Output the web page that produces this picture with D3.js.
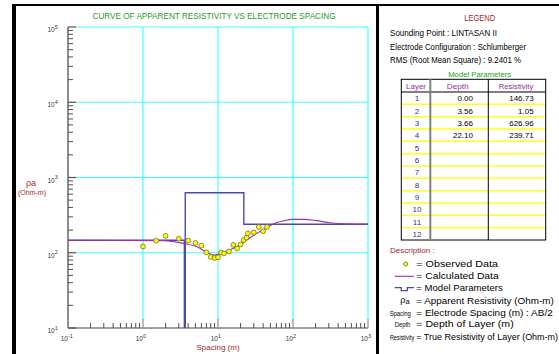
<!DOCTYPE html>
<html><head><meta charset="utf-8">
<script src="https://cdn.jsdelivr.net/npm/d3@7"></script>
<style>body{margin:0;background:#fff}svg{display:block}text{font-family:"Liberation Sans",Arial,sans-serif}</style>
</head><body><svg id="c" width="559" height="354"></svg>
<script>
// ---- data ----
const obsSpacing = [1,1.5,2,3,4,5,6,7,8,9,10,11,12,14,16,18,20,22,24,25,30,35,40,45];
const obsRho = [121,145,168,154,145,135,124,101,88,85,87,101,98,104,127,114,129,147,159,181,186,220,193,220];
const calcSpacing = [0.1,1.88,2.69,3.47,5.22,7.1,8.69,10.1,13.1,17.8,24.1,32.8,44.6,60.5,67,100,144,206,310,466,1000];
const calcRho = [146.4,145,139.6,133.3,120.2,101.2,93.2,95.2,105.3,120.2,147.4,181,215,253,258,278,278,267,251,243,241];
const layerNo = [1,2,3,4,5,6,7,8,9,10,11,12];
const layerDepth = ["0.00","3.56","3.66","22.10"];
const layerRes = ["146.73","1.05","626.96","239.71"];
const xTickExp = [-1,0,1,2,3];
const yTickExp = [1,2,3,4,5];
const title = "CURVE OF APPARENT RESISTIVITY VS ELECTRODE SPACING";

const svg = d3.select("#c");
const L=68,R=368,T=27,B=328;
const x = d3.scaleLog().domain([0.1,1000]).range([L,R]);
const y = d3.scaleLog().domain([10,1e5]).range([B,T]);

// frame
svg.append("rect").attr("x",12).attr("y",4).attr("width",4).attr("height",350).attr("fill","#000");
svg.append("rect").attr("x",12).attr("y",4).attr("width",547).attr("height",2).attr("fill","#000");
svg.append("rect").attr("x",376).attr("y",4).attr("width",3).attr("height",350).attr("fill","#000");

// title
svg.append("text").attr("x",214).attr("y",19).attr("text-anchor","middle").attr("font-size",8.5)
  .attr("fill","#2a9a2a").attr("textLength",243).attr("lengthAdjust","spacingAndGlyphs").text(title);

// grid
const g = svg.append("g");
xTickExp.filter(e=>e>-1).forEach(e=>{
  g.append("line").attr("x1",x(10**e)).attr("x2",x(10**e)).attr("y1",T).attr("y2",B-8).attr("stroke","#40ffff").attr("stroke-width",1.2);
});
yTickExp.filter(e=>e>1).forEach(e=>{
  g.append("line").attr("x1",L+8).attr("x2",R).attr("y1",y(10**e)).attr("y2",y(10**e)).attr("stroke","#40ffff").attr("stroke-width",1.2);
});
// axes lines
g.append("line").attr("x1",L).attr("x2",L).attr("y1",T).attr("y2",B).attr("stroke","#404040").attr("stroke-width",1.2);
g.append("line").attr("x1",L).attr("x2",R).attr("y1",B).attr("y2",B).attr("stroke","#404040").attr("stroke-width",1.2);
// y ticks
yTickExp.forEach(e=>{
  g.append("line").attr("x1",L).attr("x2",L+8).attr("y1",y(10**e)).attr("y2",y(10**e)).attr("stroke","#505050").attr("stroke-width",1.2);
  if(e<5) for(let m=2;m<=9;m++){
    g.append("line").attr("x1",L).attr("x2",L+5).attr("y1",y(m*10**e)).attr("y2",y(m*10**e)).attr("stroke","#505050");
  }
  const t=g.append("text").attr("x",47.5).attr("y",y(10**e)+5).attr("font-size",6.5).attr("fill","#383838");
  t.append("tspan").text("10");
  t.append("tspan").attr("dy",-3.5).attr("font-size",5.5).text(e);
});
// x ticks
xTickExp.forEach(e=>{
  g.append("line").attr("x1",x(10**e)).attr("x2",x(10**e)).attr("y1",B).attr("y2",B-9).attr("stroke","#909090").attr("stroke-width",1.2);
  if(e<3) for(let m=2;m<=9;m++){
    g.append("line").attr("x1",x(m*10**e)).attr("x2",x(m*10**e)).attr("y1",B).attr("y2",B-5).attr("stroke","#505050");
  }
  const t=g.append("text").attr("x",x(10**e)-7.3).attr("y",B+13).attr("font-size",6.5).attr("fill","#383838");
  t.append("tspan").text("10");
  t.append("tspan").attr("dy",-3.5).attr("font-size",5.5).text(e);
});
// axis titles
svg.append("text").attr("x",31).attr("y",186).attr("text-anchor","middle").attr("font-size",9).attr("fill","#a02828").text("ρa");
svg.append("text").attr("x",32).attr("y",195).attr("text-anchor","middle").attr("font-size",7).attr("fill","#a02828").text("(Ohm-m)");
svg.append("text").attr("x",218).attr("y",350).attr("text-anchor","middle").attr("font-size",8).attr("fill","#a02828").text("Spacing (m)");

// clip
svg.append("clipPath").attr("id","pc").append("rect").attr("x",L).attr("y",T).attr("width",R-L).attr("height",B-T);
const p = svg.append("g").attr("clip-path","url(#pc)");

// model step line
const modelPts = [];
const dnum = layerDepth.map(Number), rnum = layerRes.map(Number);
modelPts.push([0.1,rnum[0]]);
for(let i=1;i<dnum.length;i++){ modelPts.push([dnum[i],rnum[i-1]]); modelPts.push([dnum[i],rnum[i]]); }
modelPts.push([1000,rnum[rnum.length-1]]);
p.append("path").attr("d",d3.line().x(d=>x(d[0])).y(d=>y(d[1]))(modelPts))
  .attr("fill","none").attr("stroke","#4a4aa8").attr("stroke-width",1.4);

// calculated curve
p.append("path").attr("d",d3.line().curve(d3.curveMonotoneX).x((d,i)=>x(calcSpacing[i])).y((d,i)=>y(calcRho[i]))(calcRho))
  .attr("fill","none").attr("stroke","#a030a8").attr("stroke-width",1.1);

// observed
p.selectAll("circle.o").data(obsSpacing).enter().append("circle")
  .attr("cx",d=>x(d)).attr("cy",(d,i)=>y(obsRho[i])).attr("r",2.4)
  .attr("fill","#ffff00").attr("stroke","#707030").attr("stroke-width",0.8);

// ---- legend panel ----
const lg = svg.append("g");
function txt(xx,yy,s,opt={}){
  const t=lg.append("text").attr("x",xx).attr("y",yy).attr("font-size",opt.fs||8.5).attr("fill",opt.c||"#000")
   .attr("text-anchor",opt.a||"start").text(s);
  if(opt.w) t.attr("textLength",opt.w).attr("lengthAdjust",opt.la||"spacingAndGlyphs");
  return t;
}
function narrow(cx,yy,s,sx){
  return lg.append("text").attr("transform",`translate(${cx},${yy}) scale(${sx},1)`).attr("text-anchor","middle")
    .attr("font-size",7.5).attr("fill","#000").text(s);
}
txt(479.7,21,"LEGEND",{a:"middle",c:"#a02828",w:31});
txt(390,36,"Sounding Point  :  LINTASAN II",{w:107,fs:8.3});
txt(390,49.5,"Electrode Configuration  :  Schlumberger",{w:136,fs:8.3});
txt(390,63,"RMS (Root Mean Square)  :  9.2401 %",{w:131,fs:8.3});
txt(479.7,77,"Model Parameters",{a:"middle",c:"#22a022",w:63,fs:8});

// table
const tL=401.3,tR=545.7,tT=79.3,hB=92,tB=240,c1=430.3,c2=488.3;
const rowH=(tB-hB)/layerNo.length;
layerNo.forEach((n,i)=>{
  if(i>0) lg.append("line").attr("x1",tL).attr("x2",tR).attr("y1",hB+i*rowH).attr("y2",hB+i*rowH).attr("stroke","#ffff20").attr("stroke-width",1.5);
});
lg.append("rect").attr("x",tL).attr("y",tT).attr("width",tR-tL).attr("height",tB-tT).attr("fill","none").attr("stroke","#000");
lg.append("line").attr("x1",tL).attr("x2",tR).attr("y1",hB).attr("y2",hB).attr("stroke","#000");
lg.append("line").attr("x1",c1).attr("x2",c1).attr("y1",tT).attr("y2",tB).attr("stroke","#808080").attr("stroke-width",2);
lg.append("line").attr("x1",c2).attr("x2",c2).attr("y1",tT).attr("y2",tB).attr("stroke","#000");
txt(416,89,"Layer",{a:"middle",c:"#9030a0",w:20,fs:8});
txt(457.7,89,"Depth",{a:"middle",c:"#9030a0",w:22,fs:8});
txt(516,89,"Resistivity",{a:"middle",c:"#9030a0",w:34.6,fs:8});
layerNo.forEach((n,i)=>{
  const cy=hB+(i+0.5)*rowH+3;
  txt(417,cy,String(n),{a:"middle",c:"#3030a0",fs:8});
  if(i<layerDepth.length){
    txt(473,cy,layerDepth[i],{a:"end",fs:8});
    txt(533.7,cy,layerRes[i],{a:"end",fs:8});
  }
});

// description
txt(390,253,"Description :",{c:"#a02828",w:44.7,fs:8});
lg.append("circle").attr("cx",405.7).attr("cy",264).attr("r",2).attr("fill","#ffff00").attr("stroke","#707030").attr("stroke-width",0.8);
txt(416.3,267,"=  Observed Data",{w:81.7,fs:8.2});
lg.append("line").attr("x1",394.7).attr("x2",414).attr("y1",276.3).attr("y2",276.3).attr("stroke","#a030a8").attr("stroke-width",1.1);
txt(416.3,279,"=  Calculated Data",{w:82.4,fs:8.2});
lg.append("path").attr("d","M394.7,287.7H401.3V290.7H407.3V287.7H414").attr("fill","none").attr("stroke","#4a4aa8").attr("stroke-width",1.3);
txt(416.3,291,"=  Model Parameters",{w:86.4,fs:8.2});
const rt=txt(405,303,"ρ",{a:"middle",fs:9});
rt.append("tspan").attr("font-size",7.5).attr("dy",1).text("a");
txt(416.3,303.5,"=  Apparent Resistivity (Ohm-m)",{w:137.4,fs:8.2});
narrow(400.2,315.5,"Spacing",0.78);
txt(416.3,315.5,"=  Electrode Spacing (m)  :  AB/2",{w:136.4,fs:8.2});
narrow(402.5,327,"Depth",0.78);
txt(416.3,327,"=  Depth of Layer (m)",{w:97.4,fs:8.2});
narrow(402,339.5,"Resistivity",0.72);
txt(416.3,339.5,"=  True Resistivity of Layer (Ohm-m)",{w:141.7,fs:8.2});
</script></body></html>
